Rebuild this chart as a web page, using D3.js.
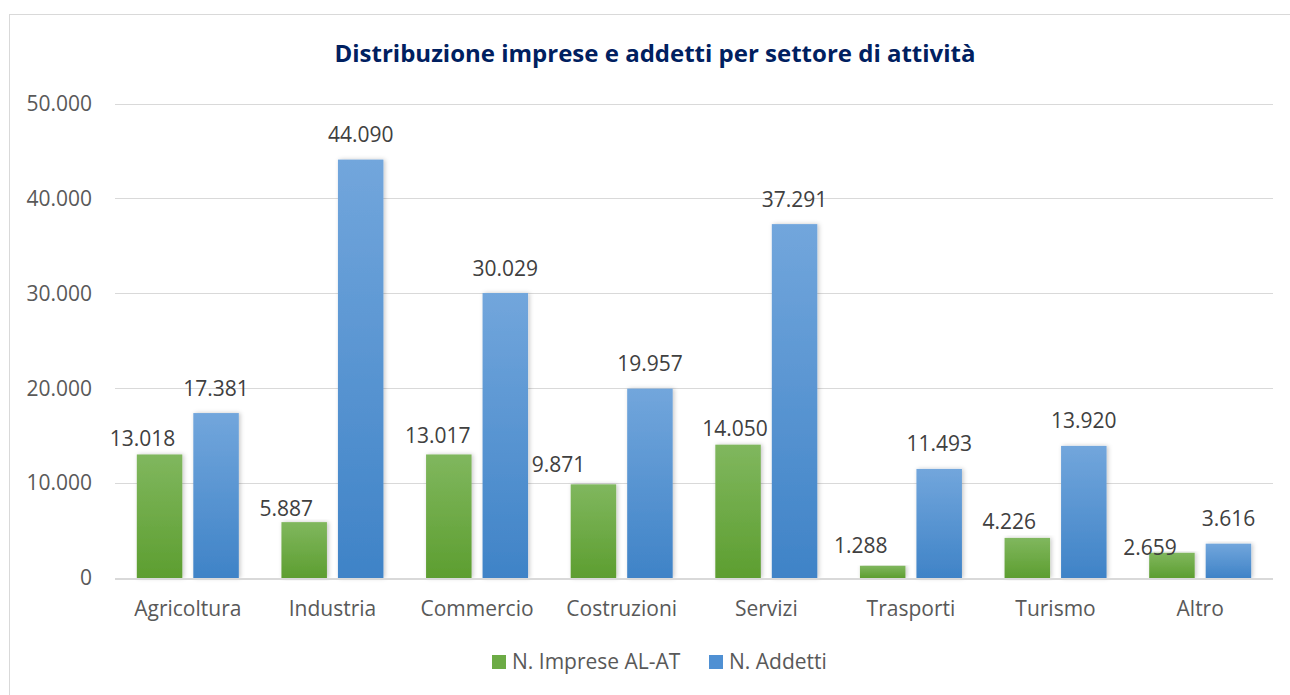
<!DOCTYPE html>
<html>
<head>
<meta charset="utf-8">
<script src="https://cdn.jsdelivr.net/npm/d3@7"></script>
<style>
  body { margin: 0; background: #fff; }
  svg text { font-family: "Open Sans", "Noto Sans", sans-serif; }
</style>
</head>
<body>
<svg id="chart" width="1290" height="695"></svg>
<script>
var categories = ["Agricoltura", "Industria", "Commercio", "Costruzioni", "Servizi", "Trasporti", "Turismo", "Altro"];
var imprese = [13018, 5887, 13017, 9871, 14050, 1288, 4226, 2659];
var addetti = [17381, 44090, 30029, 19957, 37291, 11493, 13920, 3616];
var seriesNames = ["N. Imprese AL-AT", "N. Addetti"];
var yTicks = [0, 10000, 20000, 30000, 40000, 50000];

// labels of the green series were nudged by hand in the original
var impreseLabelDx = [-17, -18, -11, -35, -3, -22, -18, -22];
var impreseLabelDy = [8, 6, 11, 12, 9, 13, 9, -2];

var svg = d3.select("#chart"),
    width = +svg.attr("width"),
    height = +svg.attr("height");

var fmt = d3.formatLocale({decimal: ",", thousands: ".", grouping: [3], currency: ["", "€"]}).format(",d");

var defs = svg.append("defs");
function grad(id, top, bottom) {
    var g = defs.append("linearGradient").attr("id", id)
        .attr("x1", 0).attr("y1", 0).attr("x2", 0).attr("y2", 1);
    g.append("stop").attr("offset", "0%").attr("stop-color", top);
    g.append("stop").attr("offset", "100%").attr("stop-color", bottom);
}
grad("gGreen", "#80b75e", "#5d9e30");
grad("gBlue", "#72a6dc", "#3f83c7");
var shadow = defs.append("filter").attr("id", "shadow")
    .attr("x", "-20%").attr("y", "-5%").attr("width", "140%").attr("height", "110%");
shadow.append("feDropShadow").attr("dx", 1.5).attr("dy", 0).attr("stdDeviation", 2)
    .attr("flood-color", "#000").attr("flood-opacity", 0.22);

var colors = ["url(#gGreen)", "url(#gBlue)"];
var legendColors = ["#6cab45", "#4f90d3"];

// chart frame
svg.append("rect")
    .attr("x", 9.5).attr("y", 14.5)
    .attr("width", width + 10).attr("height", height + 10)
    .attr("fill", "#fff").attr("stroke", "#d9d9d9").attr("stroke-width", 1);

var x = d3.scaleBand()
    .domain(categories)
    .range([115.5, 1272.5]);

var y = d3.scaleLinear()
    .domain([0, 50000])
    .range([578, 103.5]);

// gridlines
svg.append("g")
    .selectAll("line")
    .data(yTicks.slice(1))
    .enter().append("line")
    .attr("x1", 115).attr("x2", 1273)
    .attr("y1", function(d) { return Math.round(y(d)) + 0.5; })
    .attr("y2", function(d) { return Math.round(y(d)) + 0.5; })
    .attr("stroke", "#d9d9d9").attr("stroke-width", 1);

// y labels
svg.append("g")
    .selectAll("text")
    .data(yTicks)
    .enter().append("text")
    .attr("x", 92)
    .attr("y", function(d) { return y(d); })
    .attr("dy", "0.35em")
    .attr("text-anchor", "end")
    .attr("font-size", 21)
    .attr("fill", "#595959")
    .text(function(d) { return fmt(d); });

var barW = 45.5, gap = 11;
var data = [imprese, addetti];

data.forEach(function(values, s) {
    var g = svg.append("g");
    function cx(i) {
        var c = x(categories[i]) + x.bandwidth() / 2;
        return s === 0 ? c - gap / 2 - barW / 2 : c + gap / 2 + barW / 2;
    }
    g.selectAll("rect")
        .data(values)
        .enter().append("rect")
        .attr("x", function(d, i) { return cx(i) - barW / 2; })
        .attr("y", function(d) { return y(d); })
        .attr("width", barW)
        .attr("height", function(d) { return y(0) - y(d); })
        .attr("fill", colors[s])
        .attr("filter", "url(#shadow)");

    g.selectAll("text")
        .data(values)
        .enter().append("text")
        .attr("x", function(d, i) { return cx(i) + (s === 0 ? impreseLabelDx[i] : 0); })
        .attr("y", function(d, i) { return y(d) - (s === 0 ? impreseLabelDy[i] : 17.5); })
        .attr("text-anchor", "middle")
        .attr("font-size", 21)
        .attr("fill", "#404040")
        .text(function(d) { return fmt(d); });
});

// baseline
svg.append("line")
    .attr("x1", 115).attr("x2", 1273)
    .attr("y1", 579).attr("y2", 579)
    .attr("stroke", "#d9d9d9").attr("stroke-width", 2);

// category labels
svg.append("g")
    .selectAll("text")
    .data(categories)
    .enter().append("text")
    .attr("x", function(d) { return x(d) + x.bandwidth() / 2; })
    .attr("y", 616)
    .attr("text-anchor", "middle")
    .attr("font-size", 21)
    .attr("fill", "#595959")
    .text(function(d) { return d; });

// title
svg.append("text")
    .attr("x", 655).attr("y", 62)
    .attr("text-anchor", "middle")
    .attr("font-size", 24)
    .attr("font-weight", "bold")
    .attr("fill", "#002060")
    .text("Distribuzione imprese e addetti per settore di attività");

// legend
var legendX = [492, 709];
seriesNames.forEach(function(name, i) {
    svg.append("rect")
        .attr("x", legendX[i]).attr("y", 655)
        .attr("width", 14).attr("height", 14)
        .attr("fill", legendColors[i]);
    svg.append("text")
        .attr("x", legendX[i] + 20).attr("y", 669)
        .attr("font-size", 21)
        .attr("fill", "#595959")
        .text(name);
});
</script>
</body>
</html>
